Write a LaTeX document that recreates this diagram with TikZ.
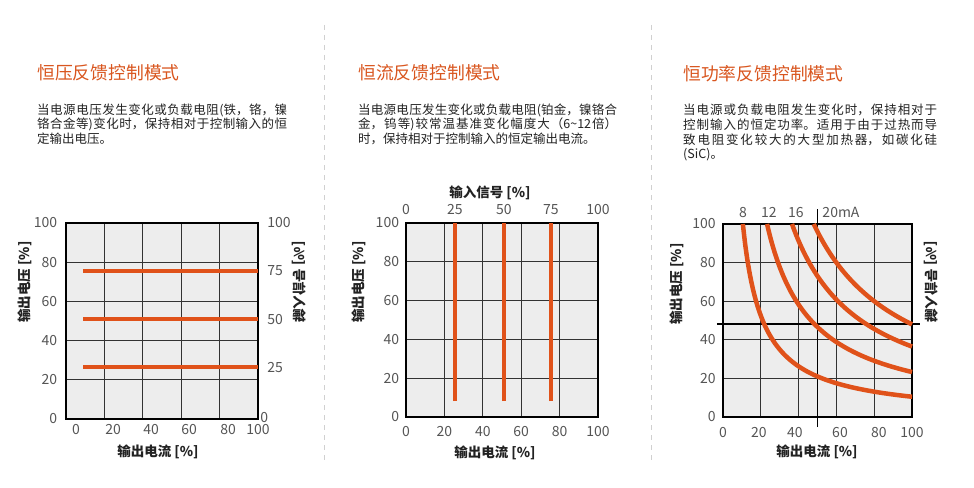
\documentclass[tikz,border=0pt]{standalone}
\usepackage{fontspec}
\usepackage{xcolor}
\setmainfont{Noto Sans CJK SC}
\XeTeXlinebreaklocale "zh"
\XeTeXlinebreakskip=0pt plus 2pt
\definecolor{titleorange}{HTML}{D9561F}
\definecolor{lineorange}{HTML}{E0521A}
\definecolor{plotbg}{HTML}{EDEDED}
\definecolor{gridgray}{HTML}{333333}
\definecolor{tickgray}{HTML}{555555}
\definecolor{desctext}{HTML}{222222}
\definecolor{sepgray}{HTML}{D0D0D0}

\begin{document}
\begin{tikzpicture}[x=1pt,y=-1pt,
  modetitle/.style={anchor=west,inner sep=0pt,text=titleorange,font=\fontsize{17.8}{20}\selectfont},
  modetext/.style={anchor=north west,inner sep=0pt,align=justify,text=desctext,font=\fontsize{12.5}{14.6}\selectfont},
  ticklabel/.style={inner sep=1pt,text=tickgray,font=\fontsize{14}{16}\selectfont},
  axislabel/.style={inner sep=0pt,text=desctext,font=\bfseries\fontsize{13.5}{15}\selectfont},
  gridline/.style={draw=gridgray,line width=1.3pt},
  plotframe/.style={draw=black,line width=2pt},
  setline/.style={draw=lineorange,line width=4.5pt},
  crossline/.style={draw=black,line width=1.4pt},
  separator/.style={draw=sepgray,line width=1pt,dash pattern=on 5pt off 5pt}]

\fill[white] (0,0) rectangle (974,487);
\useasboundingbox (0,0) rectangle (974,487);

% separators
\coordinate (sepatop) at (324,25);
\coordinate (sepabot) at (324,463);
\coordinate (sepbtop) at (651,25);
\coordinate (sepbbot) at (651,463);
\draw[separator] (sepatop) -- (sepabot);
\draw[separator] (sepbtop) -- (sepbbot);

% constant voltage
\node[modetitle] (cvtitle) at (37,73) {恒压反馈控制模式};
\node[modetext,text width=250pt] (cvtext) at (37,103.5) {当电源电压发生变化或负载电阻(铁，铬，镍\linebreak 铬合金等)变化时，保持相对于控制输入的恒\linebreak 定输出电压。};
\begin{scope}[shift={(66,419)},x=1.92pt,y=1.96pt]
\fill[plotbg] (0,0) rectangle (100,100);
\foreach \g in {20,40,60,80}{
  \draw[gridline] (\g,0) -- (\g,100);
  \draw[gridline] (0,\g) -- (100,\g);
}
\draw[plotframe] (0,0) rectangle (100,100);
\foreach \h in {75.5,51,26.5}
  \draw[setline] (9,\h) -- (100,\h);
\foreach \v in {0,20,...,100}
  \node[ticklabel,anchor=east] (cvleft\v) at (-4,\v) {\v};
\foreach \v/\p in {0/5.2,20/24.5,40/44.3,60/64.1,80/84.4,100/100}
  \node[ticklabel] (cvbot\v) at (\p,-5.6) {\v};
\foreach \v/\h in {100/100,75/75.5,50/51,25/26.5}
  \node[ticklabel,anchor=west] (cvright\v) at (104.2,\h) {\v};
\node[ticklabel,anchor=west] (cvright0) at (100.6,1) {0};
\end{scope}
\node[axislabel,rotate=90] (cvvolt) at (25,282) {输出电压 [\%]};
\node[axislabel,xscale=-1,rotate=90] (cvinput) at (299,282) {输入信号 [\%]};
\node[axislabel] (cvcurr) at (158,452) {输出电流 [\%]};

% constant current
\node[modetitle] (cctitle) at (358,73) {恒流反馈控制模式};
\node[modetext,text width=259pt] (cctext) at (358,103.5) {当电源电压发生变化或负载电阻(铂金，镍铬合\linebreak 金，钨等)较常温基准变化幅度大（6\textasciitilde 12倍）\linebreak 时，保持相对于控制输入的恒定输出电流。};
\begin{scope}[shift={(406,417)},x=1.92pt,y=1.94pt]
\fill[plotbg] (0,0) rectangle (100,100);
\foreach \g in {20,40,60,80}{
  \draw[gridline] (\g,0) -- (\g,100);
  \draw[gridline] (0,\g) -- (100,\g);
}
\draw[plotframe] (0,0) rectangle (100,100);
\foreach \p in {25.5,51,75.5}
  \draw[setline] (\p,8.2) -- (\p,100);
\foreach \v/\p in {0/0,25/25.5,50/51,75/75.5,100/100}
  \node[ticklabel] (cctop\v) at (\p,106.7) {\v};
\foreach \v in {0,20,...,100}
  \node[ticklabel,anchor=east] (ccleft\v) at (-3,\v) {\v};
\foreach \v in {0,20,...,100}
  \node[ticklabel] (ccbot\v) at (\v,-7.7) {\v};
\end{scope}
\node[axislabel] (ccinput) at (490,193) {输入信号 [\%]};
\node[axislabel,rotate=90] (ccvolt) at (359,282) {输出电压 [\%]};
\node[axislabel] (cccurr) at (495,453) {输出电流 [\%]};

% constant power
\node[modetitle] (cptitle) at (683,74) {恒功率反馈控制模式};
\node[modetext,text width=254pt] (cptext) at (683,104) {当电源或负载电阻发生变化时，保持相对于\linebreak 控制输入的恒定功率。适用于由于过热而导\linebreak 致电阻变化较大的大型加热器，如碳化硅\linebreak (SiC)。};
\begin{scope}[shift={(723,417)},x=1.89pt,y=1.93pt]
\fill[plotbg] (0,0) rectangle (100,100);
\foreach \g in {20,40,60,80}{
  \draw[gridline] (\g,0) -- (\g,100);
  \draw[gridline] (0,\g) -- (100,\g);
}
\draw[plotframe] (0,0) rectangle (100,100);
\coordinate (cpvtop) at (50,108);
\coordinate (cpvbot) at (50,-5.2);
\coordinate (cphleft) at (-3.2,48.2);
\coordinate (cphright) at (104.2,48.2);
\draw[crossline] (cpvbot) -- (cpvtop);
\draw[crossline] (cphleft) -- (cphright);
\foreach \k in {1050,2330,3650,4800}
  \draw[setline] plot[domain=\k/100:100,samples=80,smooth] (\x,{\k/\x});
\foreach \t/\p in {8/10.6,12/24.3,16/38.6}
  \node[ticklabel] (cptop\t) at (\p,106.2) {\t};
\node[ticklabel,anchor=west] (cptop20) at (52,106.2) {20mA};
\foreach \v in {0,20,...,100}
  \node[ticklabel,anchor=east] (cpleft\v) at (-3.2,\v) {\v};
\foreach \v/\p in {0/0,20/19,40/38,60/61.9,80/82.5,100/100}
  \node[ticklabel] (cpbot\v) at (\p,-7.8) {\v};
\end{scope}
\node[axislabel,rotate=90] (cpvolt) at (677,284) {输出电压 [\%]};
\node[axislabel,xscale=-1,rotate=90] (cpinput) at (931,282) {输入信号 [\%]};
\node[axislabel] (cpcurr) at (817,452) {输出电流 [\%]};
\end{tikzpicture}
\end{document}
